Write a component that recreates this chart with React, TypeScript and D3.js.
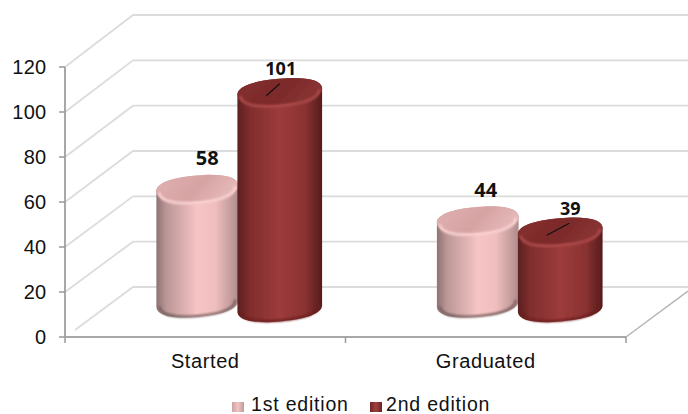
import React from "react";
import * as d3 from "d3";

const categories = ["Started", "Graduated"];
const seriesNames = ["1st edition", "2nd edition"];
const firstEdition = [58, 44];
const secondEdition = [101, 39];
const yTicks = [0, 20, 40, 60, 80, 100, 120];
const labelDx = [[10, 8], [1, 10]];

const W = 688, H = 414;
const x = d3.scaleBand<string>().domain(categories).range([65, 626]);
const yFront = d3.scaleLinear().domain([0, 120]).range([337, 67]);
const yBack = d3.scaleLinear().domain([0, 120]).range([287, 15]);
const yTop = d3.scaleLinear().domain([0, 120]).range([319, 49]);

const seriesGeom = [
  { dx: -8, rx: 41, base: 304, dy: -30, size: 20, body: "gPink", top: "tPink", rim: "#fbd2d2", foot: "#6f5a5a" },
  { dx: 74.5, rx: 42.5, base: 308.5, dy: -23, size: 18, body: "gRed", top: "tRed", rim: "#ad4c4c", foot: "#6a1f1f" },
];
const TILT = 5;
const RY = 13;
const K = 0.64;
const font = "'Liberation Sans', Arial, sans-serif";
const labelFont = "'Open Sans', 'Noto Sans', sans-serif";

// Half of a slightly squared, tilted ellipse, as cubic segments.
function halfEdge(cx: number, cy: number, rx: number, sign: number, leftToRight: boolean) {
  const a = (-TILT * Math.PI) / 180;
  const p = (u: number, v: number) =>
    `${(cx + u * Math.cos(a) - v * Math.sin(a)).toFixed(2)} ${(cy + u * Math.sin(a) + v * Math.cos(a)).toFixed(2)}`;
  const ry = RY * sign;
  const d = leftToRight ? 1 : -1;
  return (
    `C${p(-d * rx, K * ry)} ${p(-d * K * rx, ry)} ${p(0, ry)} ` +
    `C${p(d * K * rx, ry)} ${p(d * rx, K * ry)} ${p(d * rx, 0)}`
  );
}
function edgePoint(cx: number, cy: number, rx: number, side: number) {
  const a = (-TILT * Math.PI) / 180;
  return `${(cx + side * rx * Math.cos(a)).toFixed(2)} ${(cy + side * rx * Math.sin(a)).toFixed(2)}`;
}

function Cylinder({ cx, topY, geom }: { cx: number; topY: number; geom: typeof seriesGeom[number] }) {
  const { rx, base } = geom;
  const body = `M${edgePoint(cx, topY, rx, -1)} ${halfEdge(cx, topY, rx, -1, true)} L${edgePoint(cx, base, rx, 1)} ${halfEdge(cx, base, rx, 1, false)} Z`;
  const topE = `M${edgePoint(cx, topY, rx, -1)} ${halfEdge(cx, topY, rx, -1, true)} ${halfEdge(cx, topY, rx, 1, false)} Z`;
  const rimFront = `M${edgePoint(cx, topY + 1, rx - 3, -1)} ${halfEdge(cx, topY + 1, rx - 3, 1, true)}`;
  const foot = `M${edgePoint(cx, base - 1, rx - 3, -1)} ${halfEdge(cx, base - 1, rx - 3, 1, true)}`;
  return (
    <g>
      <path d={body} fill={`url(#${geom.body})`} filter="url(#tiny)" />
      <path d={foot} fill="none" stroke={geom.foot} strokeWidth={2} filter="url(#soft)" />
      <path d={topE} fill={`url(#${geom.top})`} filter="url(#tiny)" />
      <path d={rimFront} fill="none" stroke={geom.rim} strokeWidth={2.5} filter="url(#soft)" />
    </g>
  );
}

export default function App() {
  const series = [firstEdition, secondEdition];
  const bx = x.bandwidth() / 2;
  return (
    <svg width={W} height={H} viewBox={`0 0 ${W} ${H}`} style={{ position: "absolute", left: 0, top: 0, background: "#fff" }}>
      <defs>
        <linearGradient id="gPink">
          <stop offset="0" stopColor="#8f7272" />
          <stop offset="0.12" stopColor="#bb9696" />
          <stop offset="0.5" stopColor="#f6c4c4" />
          <stop offset="0.72" stopColor="#f0bebe" />
          <stop offset="1" stopColor="#b08c8c" />
        </linearGradient>
        <linearGradient id="gRed">
          <stop offset="0" stopColor="#5c2020" />
          <stop offset="0.14" stopColor="#7f2d2d" />
          <stop offset="0.5" stopColor="#9d3b3b" />
          <stop offset="0.8" stopColor="#8a3232" />
          <stop offset="1" stopColor="#551c1c" />
        </linearGradient>
        <linearGradient id="tPink" x1="0" x2="1" y1="0" y2="0.3">
          <stop offset="0" stopColor="#e0b0b0" />
          <stop offset="0.6" stopColor="#d6a3a3" />
          <stop offset="1" stopColor="#e6b8b8" />
        </linearGradient>
        <linearGradient id="tRed" x1="0" x2="1" y1="0" y2="0.3">
          <stop offset="0" stopColor="#85302f" />
          <stop offset="0.6" stopColor="#7c2a2a" />
          <stop offset="1" stopColor="#8a3333" />
        </linearGradient>
        <linearGradient id="swPink" x1="0" x2="1">
          <stop offset="0" stopColor="#c9a3a3" />
          <stop offset="0.5" stopColor="#f3c4c4" />
          <stop offset="1" stopColor="#bd9a9a" />
        </linearGradient>
        <linearGradient id="swRed" x1="0" x2="1">
          <stop offset="0" stopColor="#6d2626" />
          <stop offset="0.5" stopColor="#a23f3f" />
          <stop offset="1" stopColor="#662424" />
        </linearGradient>
        <filter id="soft" x="-20%" y="-50%" width="140%" height="200%"><feGaussianBlur stdDeviation="1.3" /></filter>
        <filter id="tiny" x="-10%" y="-20%" width="120%" height="140%"><feGaussianBlur stdDeviation="0.6" /></filter>
      </defs>

      {/* gridlines: side wall and back wall */}
      {yTicks.map((v) => (
        <polyline
          key={v}
          points={`${v === 0 ? 75 : 65},${v === 0 ? 330 : yFront(v)} 133,${yBack(v)} ${W},${yBack(v)}`}
          fill="none"
          stroke="#dcdcdc"
          strokeWidth={1.8}
        />
      ))}

      {/* floor */}
      <line x1={626} y1={yFront(0)} x2={W} y2={291} stroke="#b4b4b4" strokeWidth={1.5} />

      {/* axes */}
      <line x1={65} y1={yFront(0)} x2={626} y2={yFront(0)} stroke="#a8a8a8" strokeWidth={2} />
      <line x1={65} y1={yFront(120)} x2={65} y2={yFront(0)} stroke="#a8a8a8" strokeWidth={2} />
      {yTicks.map((v) => (
        <g key={v}>
          <line x1={59} x2={65} y1={yFront(v)} y2={yFront(v)} stroke="#9a9a9a" strokeWidth={1.5} />
          <text x={46.5} y={yFront(v) + 6.5} textAnchor="end" fontFamily={font} fontSize={20} letterSpacing={0.3} fill="#111">{v}</text>
        </g>
      ))}
      {[65, x("Graduated") as number, 626].map((px) => (
        <line key={px} x1={px} x2={px} y1={yFront(0)} y2={343} stroke="#9a9a9a" strokeWidth={1.5} />
      ))}

      {/* category labels */}
      {categories.map((c) => (
        <text key={c} x={(x(c) as number) + bx} y={368} textAnchor="middle" fontFamily={font} fontSize={20} letterSpacing={0.6} fill="#111">{c}</text>
      ))}

      {/* cylinders: first edition behind second edition */}
      {series.map((vals, s) =>
        vals.map((v, i) => (
          <Cylinder key={`${s}-${i}`} cx={(x(categories[i]) as number) + bx + seriesGeom[s].dx} topY={yTop(v)} geom={seriesGeom[s]} />
        ))
      )}

      {/* leader lines and data labels */}
      {series.map((vals, s) =>
        vals.map((v, i) => {
          const cx = (x(categories[i]) as number) + bx + seriesGeom[s].dx;
          const ty = yTop(v);
          const lx = cx + labelDx[s][i];
          return (
            <g key={`l${s}-${i}`}>
              {s === 1 && <line x1={cx - 13.5} y1={ty + 4} x2={lx - 1} y2={ty - 8} stroke="#111" strokeWidth={1.3} />}
              <text x={lx} y={ty + seriesGeom[s].dy + 6.5} textAnchor="middle" fontFamily={labelFont} fontWeight={700} fontSize={seriesGeom[s].size} fill="#111">{v}</text>
            </g>
          );
        })
      )}

      {/* legend */}
      <rect x={232} y={402} width={12} height={10} fill="url(#swPink)" />
      <text x={251} y={411} fontFamily={font} fontSize={19.5} letterSpacing={0.8} fill="#111">{seriesNames[0]}</text>
      <rect x={370} y={402} width={12} height={10} fill="url(#swRed)" />
      <text x={386} y={411} fontFamily={font} fontSize={19.5} letterSpacing={0.8} fill="#111">{seriesNames[1]}</text>
    </svg>
  );
}
